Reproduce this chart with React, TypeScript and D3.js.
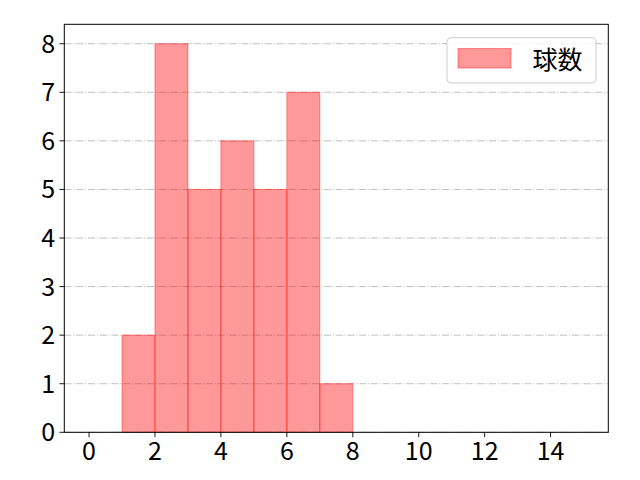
import React from "react";
import * as d3 from "d3";

// histogram bins (left edges) and counts
const binEdges = [0, 1, 2, 3, 4, 5, 6, 7, 8, 9, 10, 11, 12, 13, 14, 15];
const counts = [0, 2, 8, 5, 6, 5, 7, 1, 0, 0, 0, 0, 0, 0, 0];
const xTicks = [0, 2, 4, 6, 8, 10, 12, 14];
const yTicks = [0, 1, 2, 3, 4, 5, 6, 7, 8];
const legendLabel = "球数";

const W = 640;
const H = 480;
const margin = { top: 24.3, right: 31.7, bottom: 47.7, left: 64.3 };
const FONT = "'Noto Sans CJK JP', 'Noto Sans', sans-serif";
const FS = 25;

export default function App() {
  const x = d3
    .scaleLinear()
    .domain([-0.75, 15.75])
    .range([margin.left, W - margin.right]);
  const y = d3
    .scaleLinear()
    .domain([0, 8.4])
    .range([H - margin.bottom, margin.top]);

  const bars = counts.map((c, i) => ({ x0: binEdges[i], x1: binEdges[i] + 1, c }));

  return (
    <svg
      width={W}
      height={H}
      style={{ position: "absolute", left: 0, top: 0, background: "#fff" }}
      fontFamily={FONT}
    >
      {/* grid */}
      {yTicks.map((t) => (
        <line
          key={"g" + t}
          x1={margin.left}
          x2={W - margin.right}
          y1={y(t)}
          y2={y(t)}
          stroke="#b0b0b0"
          strokeWidth={0.8}
          strokeDasharray="7.1,1.8,1.1,1.8"
        />
      ))}
      {/* bars */}
      {bars
        .filter((b) => b.c > 0)
        .map((b, i) => (
          <rect
            key={"b" + i}
            x={x(b.x0)}
            y={y(b.c)}
            width={x(b.x1) - x(b.x0)}
            height={y(0) - y(b.c)}
            fill="red"
            fillOpacity={0.4}
            stroke="red"
            strokeOpacity={0.4}
            strokeWidth={1}
          />
        ))}
      {/* frame */}
      <rect
        x={margin.left}
        y={margin.top}
        width={W - margin.right - margin.left}
        height={H - margin.bottom - margin.top}
        fill="none"
        stroke="#000"
        strokeWidth={1}
      />
      {/* x ticks */}
      {xTicks.map((t) => (
        <g key={"x" + t}>
          <line x1={x(t)} x2={x(t)} y1={y(0)} y2={y(0) + 4.9} stroke="#000" strokeWidth={0.9} />
          <text x={x(t)} y={460} textAnchor="middle" fontSize={FS}>
            {t}
          </text>
        </g>
      ))}
      {/* y ticks */}
      {yTicks.map((t) => (
        <g key={"y" + t}>
          <line x1={margin.left - 4.9} x2={margin.left} y1={y(t)} y2={y(t)} stroke="#000" strokeWidth={0.9} />
          <text x={margin.left - 9.2} y={y(t)} dy="0.36em" textAnchor="end" fontSize={FS}>
            {t}
          </text>
        </g>
      ))}
      {/* legend */}
      <rect x={447} y={37.7} width={149} height={45.3} rx={4} fill="#fff" fillOpacity={0.8} stroke="#cccccc" strokeWidth={1} />
      <rect x={458} y={48.5} width={53} height={19.5} fill="red" fillOpacity={0.4} stroke="red" strokeOpacity={0.4} />
      <text x={532.5} y={60} dy="0.36em" fontSize={FS}>
        {legendLabel}
      </text>
    </svg>
  );
}
